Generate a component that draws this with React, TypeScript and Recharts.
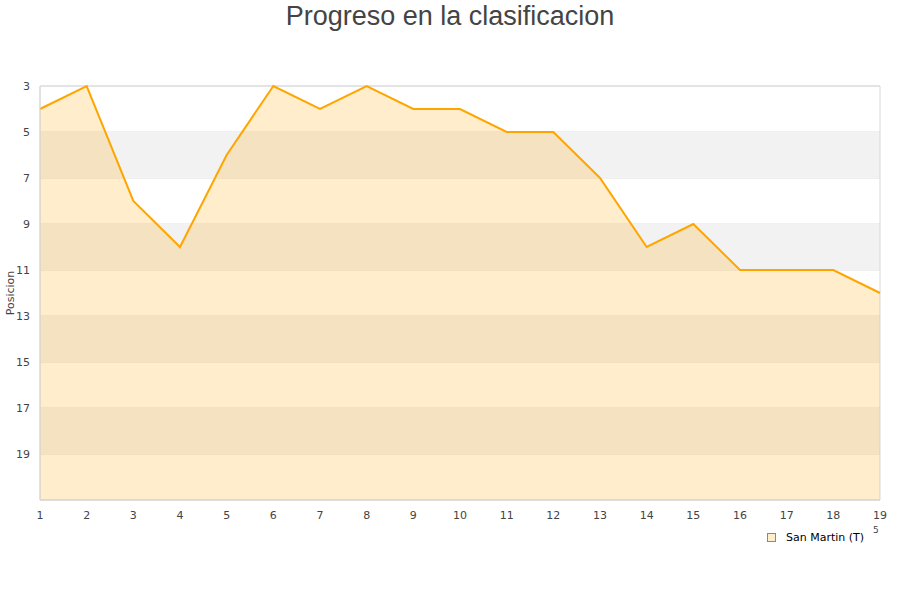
import React from 'react';
import { AreaChart, Area, CartesianGrid, XAxis, YAxis, ReferenceArea, Label } from 'recharts';

const jornadas = [1, 2, 3, 4, 5, 6, 7, 8, 9, 10, 11, 12, 13, 14, 15, 16, 17, 18, 19];
const posiciones = [4, 3, 8, 10, 6, 3, 4, 3, 4, 4, 5, 5, 7, 10, 9, 11, 11, 11, 12];
const yTicks = [3, 5, 7, 9, 11, 13, 15, 17, 19];
const bandas = [[5, 7], [9, 11], [13, 15], [17, 19]];
const equipo = 'San Martin (T)';

const data = jornadas.map((j, i) => ({ jornada: j, pos: posiciones[i] }));

const tickStyle = { fontFamily: 'DejaVu Sans', fontSize: 11, fill: '#444' };

const App: React.FC = () => {
    return (
        <div style={{ position: 'absolute', left: 0, top: 0, width: 900, height: 600, background: '#fff' }}>
            <div
                style={{
                    position: 'absolute',
                    top: 0,
                    width: 900,
                    textAlign: 'center',
                    fontFamily: 'Liberation Sans, Arial, sans-serif',
                    fontSize: 27,
                    color: '#444',
                    lineHeight: '32px',
                }}
            >
                Progreso en la clasificacion
            </div>
            <AreaChart
                width={900}
                height={600}
                data={data}
                margin={{ top: 86, right: 20, bottom: 70, left: 0 }}
            >
                {bandas.map(([a, b]) => (
                    <ReferenceArea key={a} y1={a} y2={b} fill="#f2f2f2" fillOpacity={1} stroke="none" />
                ))}
                <CartesianGrid vertical={false} stroke="#e0e0e0" horizontalValues={[...yTicks, 21]} />
                <XAxis
                    dataKey="jornada"
                    type="number"
                    domain={[1, 19]}
                    ticks={jornadas}
                    interval={0}
                    tickLine={false}
                    axisLine={{ stroke: '#d8d8d8' }}
                    tick={tickStyle}
                    tickMargin={5}
                    height={30}
                />
                <YAxis
                    reversed
                    type="number"
                    domain={[3, 21]}
                    ticks={yTicks}
                    interval={0}
                    tickLine={false}
                    axisLine={{ stroke: '#d8d8d8' }}
                    tick={tickStyle}
                    tickMargin={4}
                    width={40}
                >
                    <Label
                        value="Posicion"
                        angle={-90}
                        position="insideLeft"
                        offset={10}
                        style={{ fontFamily: 'DejaVu Sans', fontSize: 11, fill: '#444', textAnchor: 'middle' }}
                    />
                </YAxis>
                <ReferenceArea x1={1} x2={19} y1={3} y2={21} fill="none" stroke="#d8d8d8" />
                <Area
                    type="linear"
                    dataKey="pos"
                    baseValue={21}
                    stroke="#ffa500"
                    strokeWidth={2}
                    fill="#ffa500"
                    fillOpacity={0.2}
                    dot={false}
                    activeDot={false}
                    isAnimationActive={false}
                />
            </AreaChart>
            <div
                style={{
                    position: 'absolute',
                    left: 767,
                    top: 531,
                    display: 'flex',
                    alignItems: 'center',
                    fontFamily: 'DejaVu Sans',
                    fontSize: 11,
                    color: '#000',
                }}
            >
                <span
                    style={{
                        display: 'inline-block',
                        width: 7,
                        height: 7,
                        background: '#ffeecc',
                        border: '1px solid #888',
                        marginRight: 10,
                    }}
                />
                {equipo}
            </div>
            <div
                style={{
                    position: 'absolute',
                    left: 873,
                    top: 525,
                    fontFamily: 'DejaVu Sans',
                    fontSize: 9,
                    color: '#444',
                }}
            >
                5
            </div>
        </div>
    );
};

export default App;
